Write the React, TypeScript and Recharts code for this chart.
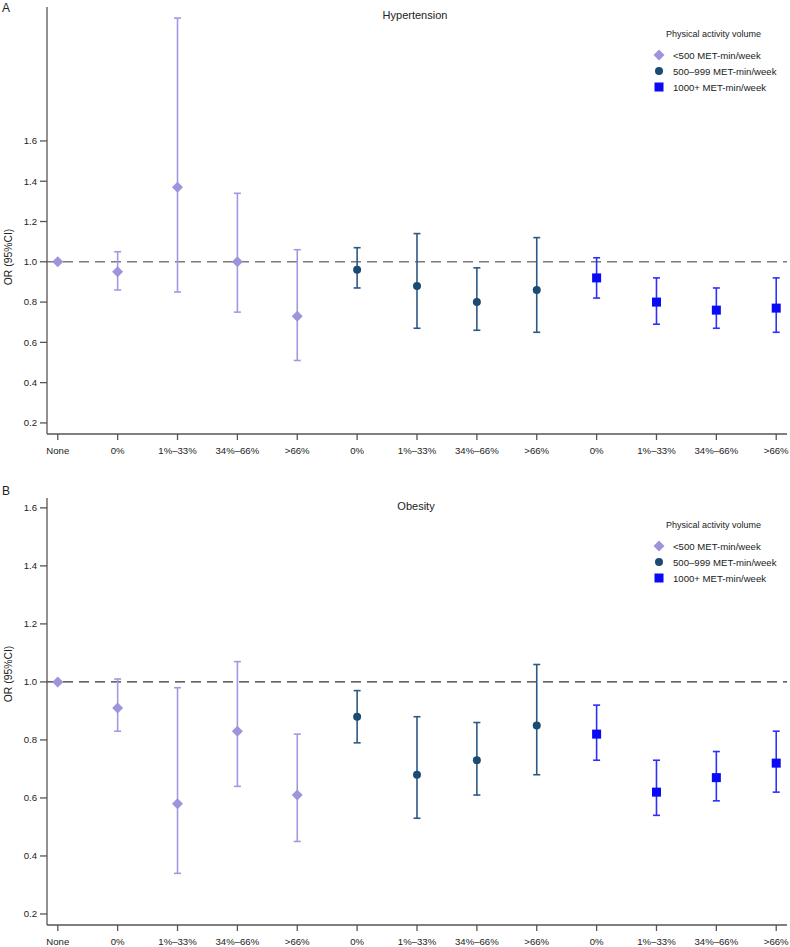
import React from 'react';
import {
  ComposedChart,
  Scatter,
  ErrorBar,
  XAxis,
  YAxis,
  ReferenceLine,
  Legend,
  Label,
} from 'recharts';

const FONT = '"Liberation Sans", Arial, sans-serif';

const xLabels = ['None', '0%', '1%–33%', '34%–66%', '>66%', '0%', '1%–33%', '34%–66%', '>66%', '0%', '1%–33%', '34%–66%', '>66%'];
const yTicks = [0.2, 0.4, 0.6, 0.8, 1.0, 1.2, 1.4, 1.6];
const groupNames = ['<500 MET-min/week', '500–999 MET-min/week', '1000+ MET-min/week'];
const groupColors = ['#9C95DC', '#1B4B73', '#0A0AF5'];
const barColors = ['#A09AE2', '#2C5885', '#2E2EFF'];
const groupStart = [0, 5, 9];

// Hypertension
const htnLowOR = [1.0, 0.95, 1.37, 1.0, 0.73];
const htnLowLo = [null, 0.86, 0.85, 0.75, 0.51];
const htnLowHi = [null, 1.05, 2.21, 1.34, 1.06];
const htnMidOR = [0.96, 0.88, 0.8, 0.86];
const htnMidLo = [0.87, 0.67, 0.66, 0.65];
const htnMidHi = [1.07, 1.14, 0.97, 1.12];
const htnHighOR = [0.92, 0.8, 0.76, 0.77];
const htnHighLo = [0.82, 0.69, 0.67, 0.65];
const htnHighHi = [1.02, 0.92, 0.87, 0.92];

// Obesity
const obLowOR = [1.0, 0.91, 0.58, 0.83, 0.61];
const obLowLo = [null, 0.83, 0.34, 0.64, 0.45];
const obLowHi = [null, 1.01, 0.98, 1.07, 0.82];
const obMidOR = [0.88, 0.68, 0.73, 0.85];
const obMidLo = [0.79, 0.53, 0.61, 0.68];
const obMidHi = [0.97, 0.88, 0.86, 1.06];
const obHighOR = [0.82, 0.62, 0.67, 0.72];
const obHighLo = [0.73, 0.54, 0.59, 0.62];
const obHighHi = [0.92, 0.73, 0.76, 0.83];

type Pt = { x: number; y: number; err?: [number, number] };

function build(start: number, or: number[], lo: (number | null)[], hi: (number | null)[]): Pt[] {
  return or.map((v, i) => {
    const l = lo[i];
    const h = hi[i];
    const p: Pt = { x: start + i, y: v };
    if (l != null && h != null) p.err = [v - l, h - v];
    return p;
  });
}

function Marker({ kind, cx, cy, color }: { kind: number; cx: number; cy: number; color: string }) {
  if (kind === 0) {
    const r = 5.5;
    return <path d={`M${cx},${cy - r}L${cx + r},${cy}L${cx},${cy + r}L${cx - r},${cy}Z`} fill={color} />;
  }
  if (kind === 1) return <circle cx={cx} cy={cy} r={4} fill={color} />;
  return <rect x={cx - 4.5} y={cy - 4.5} width={9} height={9} fill={color} />;
}

function LegendBox() {
  return (
    <div style={{ fontFamily: FONT, color: '#222', width: 135 }}>
      <div style={{ height: 19, lineHeight: '12px', paddingLeft: 14, fontSize: 9 }}>Physical activity volume</div>
      {groupNames.map((n, i) => (
        <div key={n} style={{ display: 'flex', alignItems: 'center', height: 16, fontSize: 9.6 }}>
          <svg width={21} height={16} style={{ display: 'block' }}>
            <Marker kind={i} cx={7} cy={8} color={groupColors[i]} />
          </svg>
          <span>{n}</span>
        </div>
      ))}
    </div>
  );
}

interface PanelProps {
  series: Pt[][];
  height: number;
  marginTop: number;
  xAxisHeight: number;
  domain: [number, number];
  refColor: string;
  labelY: number;
  legendTop: number;
}

function Panel({ series, height, marginTop, xAxisHeight, domain, refColor, labelY, legendTop }: PanelProps) {
  return (
    <ComposedChart width={790} height={height} margin={{ top: marginTop, right: 3, bottom: 0, left: 0 }}>
      <XAxis
        type="number"
        dataKey="x"
        domain={[-0.18, 12.18]}
        ticks={xLabels.map((_, i) => i)}
        tickFormatter={(i: number) => xLabels[i]}
        interval={0}
        height={xAxisHeight}
        tickSize={6}
        tickMargin={7}
        axisLine={{ stroke: '#555', strokeWidth: 1.3 }}
        tickLine={{ stroke: '#555', strokeWidth: 1.3 }}
        tick={{ fontSize: 9.6, fill: '#222', fontFamily: FONT }}
        allowDataOverflow
      />
      <YAxis
        type="number"
        dataKey="y"
        domain={domain}
        ticks={yTicks}
        width={47}
        tickSize={7}
        tickMargin={3}
        tickFormatter={(v: number) => v.toFixed(1)}
        axisLine={{ stroke: '#555', strokeWidth: 1.3 }}
        tickLine={{ stroke: '#555', strokeWidth: 1.3 }}
        tick={{ fontSize: 9.6, fill: '#222', fontFamily: FONT }}
        allowDataOverflow
      >
        <Label
          value="OR (95%CI)"
          content={() => (
            <text
              x={8}
              y={labelY}
              transform={`rotate(-90 8 ${labelY})`}
              textAnchor="middle"
              dominantBaseline="central"
              style={{ fontSize: 10.4, fill: '#222', fontFamily: FONT }}
            >
              OR (95%CI)
            </text>
          )}
        />
      </YAxis>
      <ReferenceLine y={1} stroke={refColor} strokeWidth={1.4} strokeDasharray="10 6" />
      {series.map((d, i) => (
        <Scatter
          key={i}
          name={groupNames[i]}
          data={d}
          isAnimationActive={false}
          shape={(p: any) => <Marker kind={i} cx={p.cx} cy={p.cy} color={groupColors[i]} />}
        >
          <ErrorBar dataKey="err" direction="y" width={3.5} stroke={barColors[i]} strokeWidth={1.6} />
        </Scatter>
      ))}
      <Legend
        layout="horizontal"
        align="center"
        verticalAlign="middle"
        wrapperStyle={{ top: legendTop, left: 652, width: 135 }}
        content={() => <LegendBox />}
      />
    </ComposedChart>
  );
}

const htnSeries = [
  build(groupStart[0], htnLowOR, htnLowLo, htnLowHi),
  build(groupStart[1], htnMidOR, htnMidLo, htnMidHi),
  build(groupStart[2], htnHighOR, htnHighLo, htnHighHi),
];
const obSeries = [
  build(groupStart[0], obLowOR, obLowLo, obLowHi),
  build(groupStart[1], obMidOR, obMidLo, obMidHi),
  build(groupStart[2], obHighOR, obHighLo, obHighHi),
];

const textStyle: React.CSSProperties = { position: 'absolute', fontFamily: FONT, color: '#222', lineHeight: 1, whiteSpace: 'nowrap' };

export default function App() {
  return (
    <div style={{ position: 'absolute', left: 0, top: 0, width: 790, height: 947, background: '#fff', overflow: 'hidden' }}>
      <div style={{ position: 'absolute', left: 0, top: 0 }}>
        <Panel
          series={htnSeries}
          height={470}
          marginTop={7}
          xAxisHeight={36}
          domain={[0.145, 2.265]}
          refColor="#7a7a7a"
          labelY={257}
          legendTop={28}
        />
      </div>
      <div style={{ position: 'absolute', left: 0, top: 470 }}>
        <Panel
          series={obSeries}
          height={477}
          marginTop={28}
          xAxisHeight={22}
          domain={[0.162, 1.634]}
          refColor="#333"
          labelY={204}
          legendTop={49}
        />
      </div>
      <div style={{ ...textStyle, left: 2, top: 2, fontSize: 12 }}>A</div>
      <div style={{ ...textStyle, left: 2, top: 485, fontSize: 12 }}>B</div>
      <div style={{ ...textStyle, left: 415, top: 10, fontSize: 11, transform: 'translateX(-50%)' }}>Hypertension</div>
      <div style={{ ...textStyle, left: 416, top: 501, fontSize: 11, transform: 'translateX(-50%)' }}>Obesity</div>
    </div>
  );
}
